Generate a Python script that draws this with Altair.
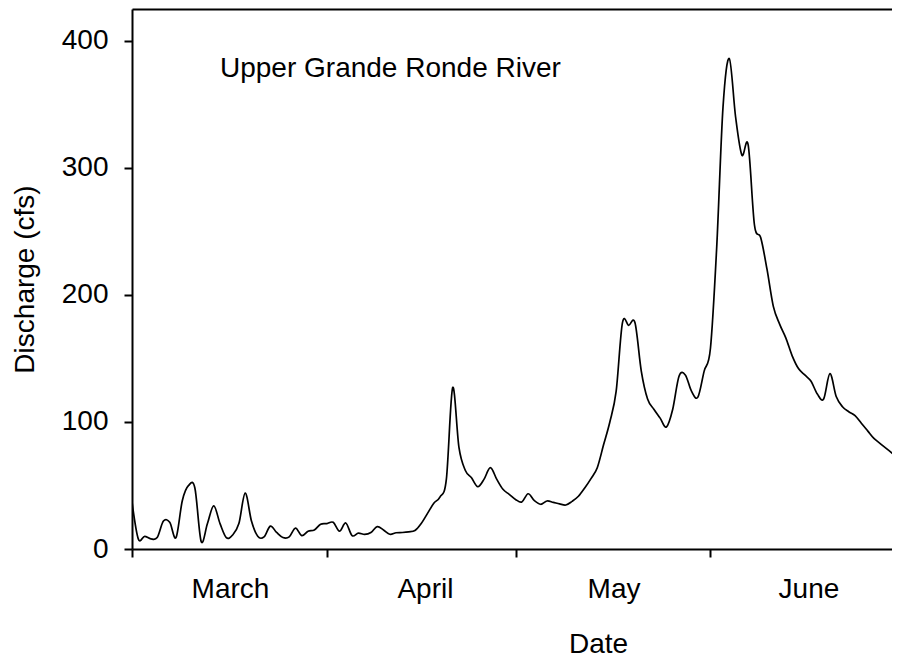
import altair as alt
import pandas as pd

# Daily discharge (cfs), 1 March - 30 June
discharge = [
    # March (1-31)
    37, 8, 10, 8, 9, 22, 21, 9, 38, 50, 48, 6, 20, 34, 20, 9, 11, 20, 44, 22,
    10, 9.5, 18, 13, 9, 9.5, 16.5, 10.5, 14, 15, 19.5,
    # April (1-30)
    20, 21, 14, 20.5, 10.5, 12.5, 11.5, 13, 17.6, 15, 11.6, 12.8, 13, 13.5, 14.5,
    20, 28, 36, 41, 55, 127, 80, 62, 56, 49, 55, 64, 55, 47, 43,
    # May (1-31)
    39, 37, 43.5, 38, 35.2, 37.8, 36.7, 35.5, 34.6, 37.5, 41.5, 48, 55.4, 64, 82,
    100, 124, 178, 176, 178, 140, 118, 110, 103, 96, 110, 136, 137, 124, 119.5,
    140,
    # June (1-30)
    158, 238, 348, 386, 340, 310, 318, 255, 245, 220, 191, 177, 166, 152, 142,
    137, 132, 122, 118, 138, 120, 112, 108, 105, 99, 93, 87, 83, 79, 75,
]
dates = pd.date_range("2021-03-01", periods=len(discharge), freq="D").strftime("%Y-%m-%d").tolist()
month_starts = [(2021, 3, 1), (2021, 4, 1), (2021, 5, 1), (2021, 6, 1)]
x_start = (2021, 3, 1, 0)
x_end = (2021, 6, 29, 21)
y_ticks = [0, 100, 200, 300, 400]
y_domain = [0, 425]
annotation = ["Upper Grande Ronde River"]

df = pd.DataFrame({"Date": dates, "Discharge": discharge})

FONT = "Liberation Sans"


def dt(t):
    hours = t[3] if len(t) > 3 else 0
    return alt.DateTime(year=t[0], month=t[1], date=t[2], hours=hours, utc=True)


xscale = alt.Scale(type="utc", domain=[dt(x_start), dt(x_end)])
yscale = alt.Scale(domain=y_domain, nice=False, zero=True)

line = alt.Chart(df).mark_line(
    color="black", strokeWidth=1.7, interpolate="cardinal", clip=True
).encode(
    x=alt.X(
        "Date:T",
        scale=xscale,
        axis=alt.Axis(
            orient="bottom",
            values=[dt(t) for t in month_starts],
            labelExpr="utcFormat(datum.value, '%B')",
            labelOffset=98,
            labelPadding=40,
            labelBaseline="alphabetic",
            labelAlign="center",
            labelOverlap=False,
            labelFlush=False,
            labelBound=False,
            tickSize=8,
            title="Date",
            titleX=466,
            titleY=103,
            titleAlign="center",
            titleBaseline="alphabetic",
            grid=False,
        ),
    ),
    y=alt.Y(
        "Discharge:Q",
        scale=yscale,
        axis=alt.Axis(
            orient="left",
            values=y_ticks,
            tickSize=8,
            labelPadding=16,
            labelBaseline="middle",
            title="Discharge (cfs)",
            titleAngle=270,
            titleX=-107,
            titleY=270,
            titleAlign="center",
            titleBaseline="middle",
            grid=False,
        ),
    ),
)

top = alt.Chart(df).mark_line(opacity=0).encode(
    x=alt.X(
        "Date:T",
        scale=xscale,
        axis=alt.Axis(orient="top", labels=False, ticks=False, title="", grid=False),
    ),
    y=alt.Y("Discharge:Q", scale=yscale, axis=None),
)

label = alt.Chart(pd.DataFrame({"label": annotation})).mark_text(
    align="left", baseline="alphabetic", fontSize=28, font=FONT, color="black"
).encode(x=alt.value(88), y=alt.value(68), text="label:N")

chart = (
    alt.layer(line, top, label)
    .resolve_axis(x="independent", y="independent")
    .properties(
        width=760,
        height=540,
        autosize=alt.AutoSizeParams(type="none"),
        padding={"left": 124, "top": 1, "right": 0, "bottom": 110},
    )
    .configure_view(stroke=None)
    .configure_axis(
        labelFont=FONT,
        titleFont=FONT,
        labelFontSize=28,
        titleFontSize=28,
        titleFontWeight="normal",
        labelColor="black",
        titleColor="black",
        domainColor="black",
        tickColor="black",
        domainWidth=2,
        tickWidth=2,
    )
)

chart.save("out.html", embed_options={"renderer": "svg", "actions": False})
